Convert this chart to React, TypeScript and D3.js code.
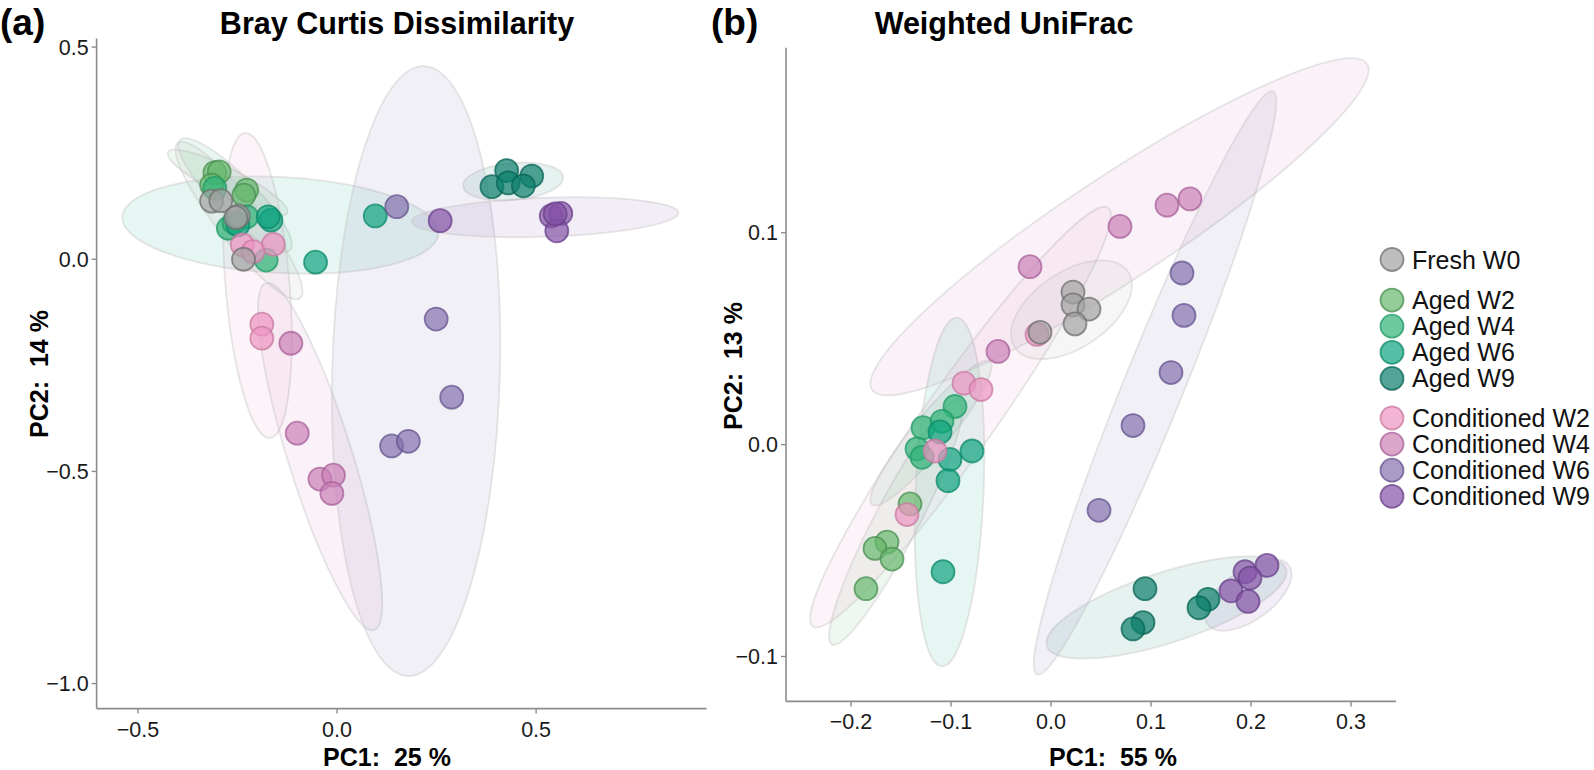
import React from "react";
import * as d3 from "d3";

type Pt = [number, number];

const groupNames = [
  "Fresh W0",
  "Aged W2",
  "Aged W4",
  "Aged W6",
  "Aged W9",
  "Conditioned W2",
  "Conditioned W4",
  "Conditioned W6",
  "Conditioned W9",
];

// ---- Bray Curtis (panel a) ----
const bcFreshW0: Pt[] = [[-0.315, 0.137], [-0.292, 0.138], [-0.248, 0.102], [-0.254, 0.098], [-0.235, 0.0]];
const bcAgedW2: Pt[] = [[-0.307, 0.204], [-0.296, 0.206], [-0.315, 0.175], [-0.227, 0.163], [-0.234, 0.151]];
const bcAgedW4: Pt[] = [[-0.307, 0.167], [-0.227, 0.1], [-0.273, 0.073], [-0.259, 0.086], [-0.178, -0.002]];
const bcAgedW6: Pt[] = [[-0.166, 0.092], [-0.173, 0.1], [-0.054, -0.007], [0.096, 0.102], [-0.249, 0.081]];
const bcAgedW9: Pt[] = [[0.426, 0.209], [0.489, 0.196], [0.389, 0.171], [0.43, 0.18], [0.468, 0.173]];
const bcCondW2: Pt[] = [[-0.238, 0.034], [-0.16, 0.035], [-0.211, 0.018], [-0.189, -0.153], [-0.189, -0.186]];
const bcCondW4: Pt[] = [[-0.116, -0.198], [-0.1, -0.41], [-0.043, -0.518], [-0.009, -0.509], [-0.013, -0.552]];
const bcCondW6: Pt[] = [[0.15, 0.124], [0.249, -0.141], [0.288, -0.325], [0.137, -0.44], [0.179, -0.429]];
const bcCondW9: Pt[] = [[0.259, 0.091], [0.538, 0.102], [0.562, 0.108], [0.552, 0.067], [0.548, 0.107]];

// ellipses: major-axis end points (data units) + minor/major ratio
const bcEllipses: number[][] = [
  [-0.3995, 0.2738, -0.093, -0.0914, 0.223],
  [-0.4246, 0.2526, -0.1256, 0.1089, 0.209],
  [-0.3945, 0.2809, -0.1181, 0.0217, 0.257],
  [-0.5395, 0.1001, 0.2545, 0.061, 0.303],
  [0.3166, 0.1725, 0.5678, 0.1937, 0.368],
  [-0.2312, 0.2974, -0.1683, -0.4213, 0.209],
  [-0.1784, -0.0561, 0.093, -0.8737, 0.176],
  [0.2186, 0.4552, 0.1784, -0.9821, 0.275],
  [0.1877, 0.0884, 0.8575, 0.1096, 0.146],
];

// ---- Weighted UniFrac (panel b) ----
const wuFreshW0: Pt[] = [[0.022, 0.072], [0.022, 0.066], [0.038, 0.064], [0.024, 0.057], [-0.011, 0.053]];
const wuAgedW2: Pt[] = [[-0.141, -0.028], [-0.164, -0.046], [-0.176, -0.049], [-0.159, -0.054], [-0.185, -0.068]];
const wuAgedW4: Pt[] = [[-0.096, 0.018], [-0.128, 0.008], [-0.109, 0.011], [-0.134, -0.002], [-0.129, -0.006]];
const wuAgedW6: Pt[] = [[-0.111, 0.006], [-0.101, -0.007], [-0.079, -0.003], [-0.103, -0.017], [-0.108, -0.06]];
const wuAgedW9: Pt[] = [[0.094, -0.068], [0.157, -0.073], [0.148, -0.077], [0.092, -0.084], [0.082, -0.087]];
const wuCondW2: Pt[] = [[-0.087, 0.029], [-0.07, 0.026], [-0.116, -0.003], [-0.144, -0.033], [-0.014, 0.052]];
const wuCondW4: Pt[] = [[-0.021, 0.084], [0.069, 0.103], [0.116, 0.113], [0.139, 0.116], [-0.053, 0.044]];
const wuCondW6: Pt[] = [[0.131, 0.081], [0.133, 0.061], [0.12, 0.034], [0.082, 0.009], [0.048, -0.031]];
const wuCondW9: Pt[] = [[0.216, -0.057], [0.194, -0.06], [0.199, -0.063], [0.18, -0.069], [0.197, -0.074]];

const wuEllipses: number[][] = [
  [-0.036, 0.0458, 0.077, 0.0816, 0.558],
  [-0.219, -0.0943, -0.091, 0.0212, 0.159],
  [-0.179, -0.0283, -0.061, 0.0392, 0.194],
  [-0.094, 0.0599, -0.109, -0.1047, 0.195],
  [-0.004, -0.0951, 0.235, -0.0586, 0.279],
  [-0.238, -0.0858, 0.057, 0.1118, 0.137],
  [-0.179, 0.0259, 0.316, 0.1797, 0.175],
  [-0.014, -0.1085, 0.222, 0.1667, 0.095],
  [0.1567, -0.0849, 0.238, -0.0571, 0.498],
];

const bcXTicks = [-0.5, 0, 0.5];
const bcYTicks = [0.5, 0, -0.5, -1.0];
const wuXTicks = [-0.2, -0.1, 0, 0.1, 0.2, 0.3];
const wuYTicks = [0.1, 0, -0.1];

const bcGroups = [bcFreshW0, bcAgedW2, bcAgedW4, bcAgedW6, bcAgedW9, bcCondW2, bcCondW4, bcCondW6, bcCondW9];
const wuGroups = [wuFreshW0, wuAgedW2, wuAgedW4, wuAgedW6, wuAgedW9, wuCondW2, wuCondW4, wuCondW6, wuCondW9];

// styles
const fills = ["#a3a3a3", "#66b86c", "#2fb377", "#0ea47f", "#0a7d6a", "#ee94c2", "#cb80b6", "#8470ae", "#8452a6"];
const strokes = ["#6f6f6f", "#4a8f52", "#1f9a66", "#0b8a6a", "#086456", "#c77aa0", "#a8609a", "#66548f", "#68408a"];
const drawOrder = [1, 2, 3, 4, 5, 6, 7, 8, 0];
const FONT = "'Liberation Sans', Arial, Helvetica, sans-serif";
const R = 11.5;
const fmt = d3.format(".1f");

type PanelProps = {
  groups: Pt[][];
  ellipses: number[][];
  xDomain: [number, number];
  yDomain: [number, number];
  xRange: [number, number];
  yRange: [number, number];
  xTicks: number[];
  yTicks: number[];
};

function Panel(p: PanelProps) {
  const sx = d3.scaleLinear().domain(p.xDomain).range(p.xRange);
  const sy = d3.scaleLinear().domain(p.yDomain).range(p.yRange);
  const x0 = p.xRange[0];
  const yB = p.yRange[0];
  return (
    <g>
      {drawOrder.map((gi) => {
        const e = p.ellipses[gi];
        const ax = sx(e[0]), ay = sy(e[1]), bx = sx(e[2]), by = sy(e[3]);
        const cx = (ax + bx) / 2, cy = (ay + by) / 2;
        const a = Math.hypot(bx - ax, by - ay) / 2;
        const ang = (Math.atan2(by - ay, bx - ax) * 180) / Math.PI;
        return (
          <ellipse
            key={"e" + gi}
            cx={cx}
            cy={cy}
            rx={a}
            ry={a * e[4]}
            transform={`rotate(${ang} ${cx} ${cy})`}
            fill={fills[gi]}
            fillOpacity={0.1}
            stroke="#c4c4c4"
            strokeOpacity={0.42}
            strokeWidth={1.8}
          />
        );
      })}
      {drawOrder.map((gi) =>
        p.groups[gi].map((d, i) => (
          <circle
            key={"p" + gi + "-" + i}
            cx={sx(d[0])}
            cy={sy(d[1])}
            r={R}
            fill={fills[gi]}
            fillOpacity={0.7}
            stroke={strokes[gi]}
            strokeOpacity={0.75}
            strokeWidth={1.8}
          />
        ))
      )}
      {/* axes */}
      <line x1={x0} x2={x0} y1={p.yRange[1]} y2={yB} stroke="#8c8c8c" strokeWidth={1.6} />
      <line x1={x0} x2={p.xRange[1]} y1={yB} y2={yB} stroke="#8c8c8c" strokeWidth={1.6} />
      {p.xTicks.map((t) => (
        <g key={"xt" + t}>
          <line x1={sx(t)} x2={sx(t)} y1={yB} y2={yB + 5} stroke="#8c8c8c" strokeWidth={1.4} />
          <text x={sx(t)} y={yB + 28} textAnchor="middle" fontSize={21.5} fontFamily={FONT} fill="#1a1a1a">
            {fmt(t)}
          </text>
        </g>
      ))}
      {p.yTicks.map((t) => (
        <g key={"yt" + t}>
          <line x1={x0 - 5} x2={x0} y1={sy(t)} y2={sy(t)} stroke="#8c8c8c" strokeWidth={1.4} />
          <text x={x0 - 8} y={sy(t)} dy="0.36em" textAnchor="end" fontSize={21.5} fontFamily={FONT} fill="#1a1a1a">
            {fmt(t)}
          </text>
        </g>
      ))}
    </g>
  );
}

function Legend() {
  const ys: number[] = [];
  let y = 259.5;
  groupNames.forEach((_, i) => {
    if (i === 1) y += 14.5;
    if (i === 5) y += 13.5;
    ys.push(y);
    y += 26.1;
  });
  return (
    <g>
      {groupNames.map((name, i) => (
        <g key={name}>
          <circle cx={1392} cy={ys[i]} r={11.5} fill={fills[i]} fillOpacity={0.7} stroke={strokes[i]} strokeOpacity={0.75} strokeWidth={1.8} />
          <text x={1412} y={ys[i]} dy="0.36em" fontSize={25} fontFamily={FONT} fill="#111">
            {name}
          </text>
        </g>
      ))}
    </g>
  );
}

export default function App() {
  return (
    <svg
      width={1594}
      height={770}
      viewBox="0 0 1594 770"
      style={{ position: "absolute", left: 0, top: 0, background: "#fff" }}
    >
      <rect x={0} y={0} width={1594} height={770} fill="#fff" />
      <Panel
        groups={bcGroups}
        ellipses={bcEllipses}
        xDomain={[-0.604, 0.928]}
        yDomain={[-1.059, 0.52]}
        xRange={[96.6, 706.5]}
        yRange={[708.6, 38.6]}
        xTicks={bcXTicks}
        yTicks={bcYTicks}
      />
      <Panel
        groups={wuGroups}
        ellipses={wuEllipses}
        xDomain={[-0.265, 0.345]}
        yDomain={[-0.1212, 0.1873]}
        xRange={[786, 1396]}
        yRange={[701.4, 47.8]}
        xTicks={wuXTicks}
        yTicks={wuYTicks}
      />
      <Legend />
      {/* panel tags and titles */}
      <text x={0} y={35} fontSize={37} fontWeight="bold" fontFamily={FONT} fill="#000">(a)</text>
      <text x={711} y={35} fontSize={37} fontWeight="bold" fontFamily={FONT} fill="#000">(b)</text>
      <text x={397} y={34} textAnchor="middle" fontSize={30.5} fontWeight="bold" fontFamily={FONT} fill="#000">
        Bray Curtis Dissimilarity
      </text>
      <text x={1004} y={34} textAnchor="middle" fontSize={30.5} fontWeight="bold" fontFamily={FONT} fill="#000">
        Weighted UniFrac
      </text>
      <text x={387} y={766} textAnchor="middle" fontSize={25} fontWeight="bold" fontFamily={FONT} fill="#000" style={{ whiteSpace: "pre" }}>
        {"PC1:  25 %"}
      </text>
      <text x={1113} y={766} textAnchor="middle" fontSize={25} fontWeight="bold" fontFamily={FONT} fill="#000" style={{ whiteSpace: "pre" }}>
        {"PC1:  55 %"}
      </text>
      <text transform="translate(48,374) rotate(-90)" textAnchor="middle" fontSize={25} fontWeight="bold" fontFamily={FONT} fill="#000" style={{ whiteSpace: "pre" }}>
        {"PC2:  14 %"}
      </text>
      <text transform="translate(742,366) rotate(-90)" textAnchor="middle" fontSize={25} fontWeight="bold" fontFamily={FONT} fill="#000" style={{ whiteSpace: "pre" }}>
        {"PC2:  13 %"}
      </text>
    </svg>
  );
}
